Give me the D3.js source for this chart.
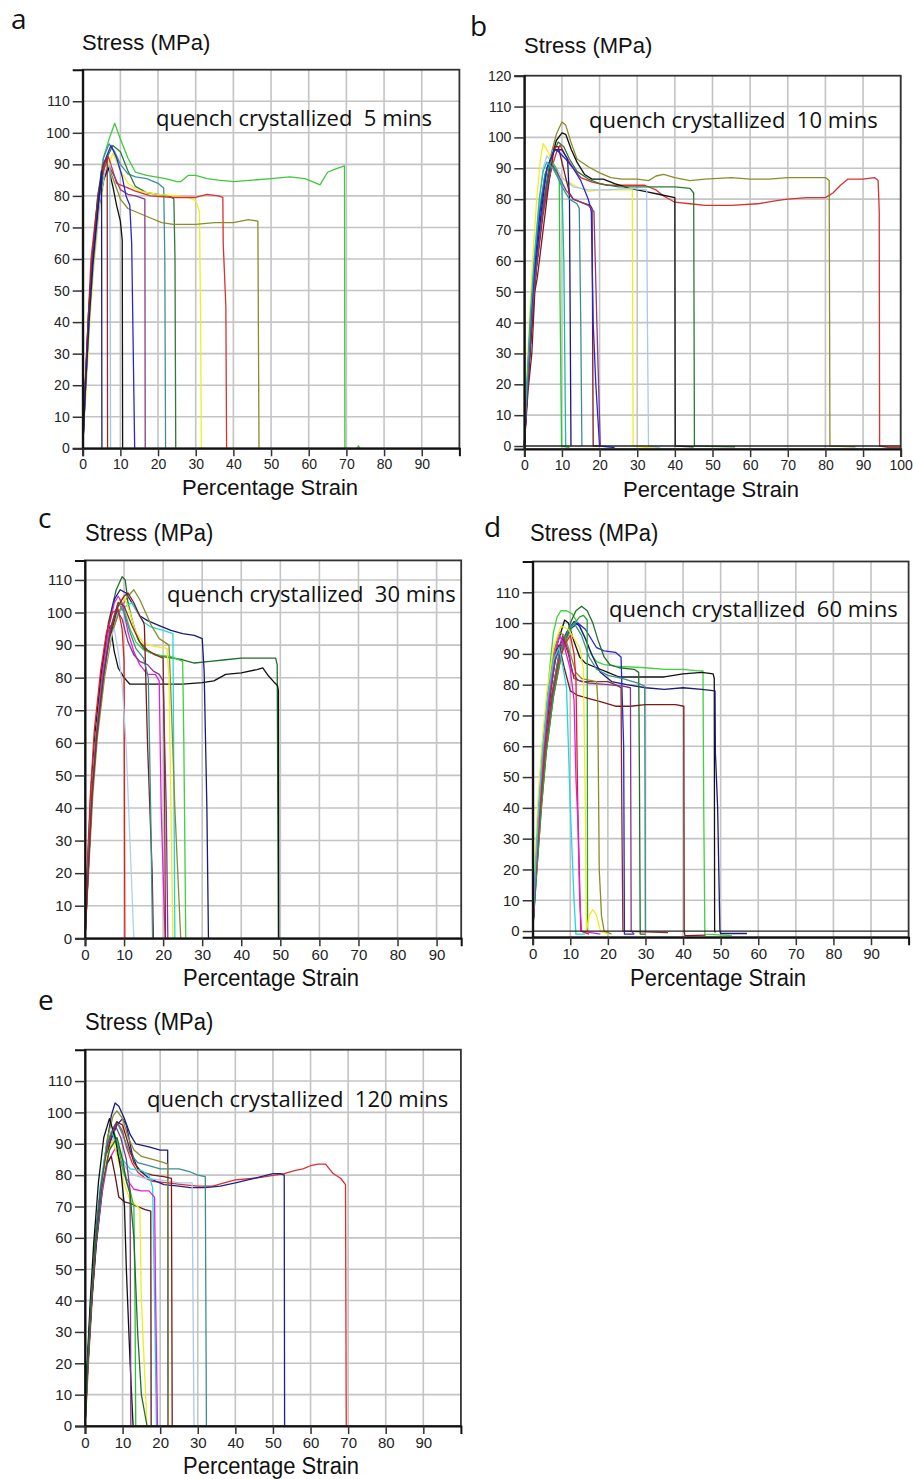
<!DOCTYPE html>
<html><head><meta charset="utf-8">
<script src="https://cdn.jsdelivr.net/npm/d3@7"></script>
<style>body{margin:0;background:#fff}svg{display:block}</style>
</head><body>
<svg id="c" width="913" height="1479"></svg>
<script>
// ---------------- DATA ----------------
const yTicks110 = [0,10,20,30,40,50,60,70,80,90,100,110];
const yTicks120 = [0,10,20,30,40,50,60,70,80,90,100,110,120];
const xTicks90 = [0,10,20,30,40,50,60,70,80,90];
const xTicks100 = [0,10,20,30,40,50,60,70,80,90,100];
const panelLetters = ["a","b","c","d","e"];
const panelTitles = ["quench crystallized  5 mins","quench crystallized  10 mins","quench crystallized  30 mins","quench crystallized  60 mins","quench crystallized  120 mins"];
const yLabel = "Stress (MPa)";
const xLabel = "Percentage Strain";

// panel a : 5 mins
const colorsA = ["#3ec83e","#3d8fa0","#2f7a3a","#f2ee1c","#d93030","#8c8c2a","#8a3a8a","#2828c8","#111111","#9cc4ec","#8b2b2b","#1a1a80","#3ec83e"];
const curvesA = [
 [[0,0],[0.6,18],[1.5,42],[2.5,60],[4,80],[5.5,92],[7,98],[8.5,103],[10,98],[12,92],[14,87.5],[17,86.5],[22,85.5],[25,84.5],[26,84.5],[28,86.5],[30,86.5],[33,85.5],[36,85],[40,84.5],[45,85],[50,85.5],[55,86],[59,85.5],[61,84.5],[63,83.5],[65,87.5],[67,88.5],[69.5,89.5],[69.6,0]],
 [[0,0],[0.6,17],[1.6,42],[2.6,60],[4,79],[5.5,92],[7,96.5],[8.5,94],[10,90],[12,87],[14,86],[17,85.5],[20,84],[21.5,82.5],[21.8,60],[22,0]],
 [[0,0],[0.7,18],[1.7,42],[2.8,60],[4.3,79],[6,91],[8,96],[10,94],[12,88],[14,83],[17,81],[20,80.5],[23,80],[24.2,79],[24.5,60],[24.7,0]],
 [[0,0],[1,20],[2,42],[3,58],[4.5,76],[6,87],[8,93.5],[10,88],[12,84],[15,81.5],[20,80.5],[25,80],[28,79.5],[30,78.5],[31,75],[31.3,40],[31.5,0]],
 [[0,0],[0.5,17],[1.5,42],[2.2,60],[3.5,74],[5,86],[6.8,92.5],[8,88],[9,84],[11,83],[14,81.5],[18,80],[24,79.5],[30,79.5],[33,80.5],[36,80],[37.2,79.5],[37.3,65],[38,45],[38.2,0]],
 [[0,0],[0.6,18],[1.6,42],[2.6,58],[4,76],[5.5,85],[7,89],[8.5,84],[10,79],[12,76],[15,74.5],[18,73],[21,71.5],[24,71],[30,71],[35,71.5],[40,71.5],[44,72.5],[46.5,72],[46.8,0]],
 [[0,0],[0.7,18],[1.7,42],[2.7,58],[4.2,76],[5.7,86],[7,89.5],[8.5,86],[10,82],[12,80.5],[14,80],[16.5,79],[16.6,0]],
 [[0,0],[0.5,15],[1.4,38],[2.4,58],[4,78],[5.5,90],[7.5,96],[9,92],[10.5,86],[11.5,80],[12.5,77],[13,65],[13.8,0]],
 [[0,0],[0.7,18],[1.7,42],[2.7,58],[4.2,76],[5.5,85],[6.8,89],[8,83],[9,77],[10,72],[10.5,66],[10.6,0]],
 [[0,0],[0.8,20],[2,45],[3,60],[4.5,78],[6,88],[7.2,90],[7.4,0]],
 [[0,0],[0.6,18],[1.5,42],[2.5,60],[4,80],[5.5,90],[6.5,92],[6.6,0]],
 [[0,0],[0.7,18],[1.7,40],[2.7,58],[4,75],[5,88],[5.1,0]],
 [[72.8,0],[73.2,0.8],[73.6,0]]
];

// panel b : 10 mins
const colorsB = ["#8c8c2a","#d93030","#111111","#2d7a35","#f2ee1c","#aac8ee","#30c830","#1a1a80","#3d8f90","#7a1a1a","#2424d8","#8a3a8a","#20b8a0"];
const curvesB = [
 [[0,0],[0.8,18],[2,40],[3.2,58],[5,78],[7,94],[8.5,101],[10,105],[11,104],[12.5,98],[14,93],[17,90.5],[20,88.5],[23,87],[26,86.5],[30,86.5],[33,86],[35,87.5],[37,88],[40,87],[44,86],[48,86.5],[55,87],[60,86.5],[65,86.5],[70,87],[75,87],[80,87],[81,86],[81.2,0],[88,-0.3]],
 [[0,0],[1,20],[2,38],[3,55],[5,75],[7,89],[8.5,95],[9.5,97.5],[11,94],[13,90],[15,87],[18,85.5],[22,84.5],[27,84.5],[32,84.5],[35,83],[37,81],[40,79],[44,78.5],[48,78],[55,78],[62,78.5],[67,79.5],[70,80],[75,80.5],[80,80.5],[82,82],[84,84.5],[86,86.5],[90,86.5],[93,87],[94,86],[94.3,76],[94.4,0],[97,-0.5],[100,-0.5]],
 [[0,0],[0.8,18],[2,40],[3.2,58],[5,77],[7,92],[8.5,99],[10,101.5],[11,101],[12.5,96],[14,92],[16,88],[18,86.5],[21,86.5],[24,85],[28,83.5],[32,82.5],[36,81.5],[40,80.5],[40.1,0],[45,-0.3]],
 [[0,0],[0.8,18],[2,40],[3.2,58],[5,78],[7,93],[9,98.5],[10.5,97],[12,93],[14,89],[17,86.5],[20,85],[25,84],[30,84],[35,84],[40,84],[44,83.5],[45,82],[45.2,0],[56,-0.3]],
 [[0,0],[0.5,18],[1.3,40],[2.2,60],[3.3,80],[4.3,93],[5,98],[6.5,95],[7.5,91],[9,88],[11,86],[14,84],[17,82.5],[20,83],[25,83],[28.7,83],[28.9,0],[33,-0.5],[36,-0.8]],
 [[0,0],[0.6,17],[1.6,40],[2.6,60],[4,80],[5,90],[6,94],[8,91],[10,87],[13,84],[17,83],[22,83],[28,83.5],[32.5,83],[32.7,42],[33,0],[36,-0.5]],
 [[0,0],[0.7,18],[1.8,42],[2.8,60],[4,76],[5.5,88],[7,93],[8.5,90],[9.3,86],[9.5,47],[9.9,0],[12,-0.5]],
 [[0,0],[0.8,18],[2,40],[3,58],[4.5,76],[6,90],[8,96],[10,96],[11.5,93],[12,80],[12.4,0]],
 [[0,0],[0.6,17],[1.6,40],[2.6,58],[4,76],[5.5,88],[7,92],[8.5,88],[10,84],[12,80],[14,78.5],[14.6,77],[15,40],[15.3,0]],
 [[0,0],[1,18],[2,30],[2.8,50],[3.5,55],[5,70],[6.5,85],[8,97],[9,97],[10,92],[11,87],[12,82],[13,80],[15,79],[17.5,78],[18,77],[18.3,0],[20,0]],
 [[0,0],[0.7,17],[1.8,40],[2.8,58],[4.2,76],[6,90],[8,96],[9,95.5],[11,93],[13,90],[15,86],[17,80],[17.8,76],[18.3,40],[19,20],[20,0],[24,-0.5]],
 [[0,0],[0.8,18],[1.8,38],[3,56],[4.5,72],[6,84],[7.5,91],[9,88],[11,83],[13,80],[15,79],[17,78],[18.5,76],[19.5,30],[20.2,0]],
 [[0,0],[0.6,18],[1.6,42],[2.6,60],[4,80],[5,89],[6,92],[7.5,90],[9,87],[10,85],[10.5,60],[11,0]]
];

// panel c : 30 mins
const colorsC = ["#1f6e2a","#111111","#1a1a7a","#20d8e0","#8c8c2a","#40d040","#f0ec20","#e020e0","#7a1a1a","#e02020","#b0d0f0","#3a8f8f","#7a3a8a","#8b2b2b"];
const curvesC = [
 [[0,0],[0.7,20],[1.7,45],[2.7,62],[4,78],[6,97],[8,107],[9.5,111],[10.3,110],[11,103],[12,98],[13.5,92],[15,89],[17,87.5],[20,86.5],[25,85.5],[28,84.5],[32,85],[36,85.5],[40,86],[45,86],[48.8,86],[49.2,84],[49.5,0]],
 [[0,0],[0.6,20],[1.5,45],[2.5,62],[4,80],[5.5,93],[6.5,96],[7.5,88],[8.5,83],[10,80],[11.5,78],[14,78],[20,78],[25,78],[30,78.5],[33,79],[36,81],[40,81.5],[44,82.5],[45.5,83],[47,80.5],[48.5,78.5],[49.3,77.5],[49.5,76],[49.6,0]],
 [[0,0],[0.7,20],[1.7,45],[2.8,62],[4.5,82],[6,96],[7.5,104],[9,107],[10.5,106],[12,103],[14,99],[16,97.5],[19,96],[22,94.5],[25,93.5],[28,93],[30,92],[30.5,82],[31.2,40],[31.6,0]],
 [[0,0],[0.8,20],[1.8,44],[3,62],[4.8,80],[6.5,92],[8.5,100],[10.5,102],[12,103],[13.5,100],[15,97],[17,95.5],[20,94.5],[22.5,93.5],[22.8,40],[23,0]],
 [[0,0],[0.9,20],[2,44],[3.2,62],[5,80],[7,94],[9,101],[11,105],[12.5,107],[14,104],[15.5,100],[17,96],[19,92],[21.5,90],[22,75],[23,40],[24.5,0]],
 [[0,0],[0.7,20],[1.7,44],[2.8,62],[4.5,80],[6,93],[8,101],[9,104],[10,101],[11.5,95],[13,91],[15,88.5],[18,87],[22,86.5],[25,85],[25.3,60],[25.8,0]],
 [[0,0],[0.7,20],[1.7,44],[2.8,62],[4.5,80],[6.5,95],[8.5,103],[10,105],[11.5,100],[13,94],[15,90.5],[18,89.5],[21,89],[21.5,80],[22,40],[22.5,0]],
 [[0,0],[0.7,20],[1.7,44],[2.8,62],[4.3,80],[6,95],[7.5,103],[8.5,105],[9.5,103],[11,94],[12.5,88],[14,84],[16,81],[18,81],[19,79],[19.5,40],[20.5,0]],
 [[0,0],[0.8,20],[1.8,44],[3,62],[4.8,80],[6.5,93],[8.5,102],[10,105],[11,106],[12.5,103],[14,99],[15,97],[15.2,96],[16,60],[17.2,20],[17.5,0]],
 [[0,0],[0.5,20],[1.4,45],[2.4,64],[4,82],[5.5,94],[7,100],[8.5,101],[9.5,95],[10,85],[10.2,0]],
 [[0,0],[0.8,20],[1.8,44],[3,62],[4.8,80],[6.5,92],[7.5,95],[8.5,88],[9.5,78],[10.5,60],[11.5,30],[12.5,0]],
 [[0,0],[0.7,20],[1.7,44],[2.8,62],[4.5,80],[6.5,95],[8.5,103],[10,100],[11.5,94],[13,89],[15,86],[16.2,80],[16.8,40],[17.3,0]],
 [[0,0],[0.8,20],[1.8,44],[3,62],[4.7,80],[6.5,95],[8,101],[9.5,98],[11,91],[12.5,87],[14,85],[16,84],[17.5,82],[19,81],[20,79],[20.8,40],[21.2,0]],
 [[0,0],[0.8,20],[1.8,44],[3,62],[4.7,80],[6.5,94],[8.5,103],[10,102],[12,96],[14,91],[16,88.5],[18,87],[20,86],[20.3,60],[20.6,0]]
];

// panel d : 60 mins
const colorsD = ["#40d040","#111111","#1a1a7a","#2424d8","#1f6e2a","#30a030","#3a8f8f","#7a1a1a","#8b2b2b","#7a3a8a","#8c8c2a","#f0ec20","#e02020","#e020e0","#20d8e0"];
const curvesD = [
 [[0,0],[0.8,20],[1.8,42],[3,62],[4.5,85],[5.5,97],[6.5,102],[7.5,104],[9,104],[10.5,103],[12,100],[14,95],[15.5,90],[17,87.5],[19,86.5],[22,86],[30,85.5],[35,85],[40,85],[44,84.5],[45.3,84.5],[45.5,40],[45.8,-1],[53,-1.5]],
 [[0,0],[0.8,18],[2,40],[3.2,60],[4.8,78],[6.5,93],[8.5,101],[9.5,100],[11,94],[12.5,89],[14,87],[17,85.5],[20,84],[23,82.5],[28,82.5],[35,82.5],[40,83.5],[45,84],[48,83.5],[48.3,82],[48.4,0],[48.6,-0.5]],
 [[0,0],[0.8,18],[2,40],[3.2,58],[5,76],[7,90],[9,97],[11,100.5],[12.5,99],[14,95],[16,89],[18,84],[21,81],[25,80],[30,79],[35,78.5],[40,79],[45,78.5],[48.5,78],[48.6,58],[49.2,40],[49.8,0],[50,-0.8],[57,-0.8]],
 [[0,0],[0.9,18],[2.1,40],[3.4,58],[5.2,76],[7.5,92],[10,98],[12,100],[14,98],[15.5,95],[17,92],[19,91],[22,90.5],[23.5,89],[24.2,60],[24.4,-1],[27,-1]],
 [[0,0],[1,18],[2.3,40],[3.6,58],[5.5,76],[8,92],[10,100],[11.5,104],[13,105.5],[14.5,104],[16,100],[17.5,94],[19,89],[20.5,86.5],[23,85.5],[27,85],[28.2,84],[28.4,50],[28.6,-1],[30,-1]],
 [[0,0],[1,18],[2.3,40],[3.6,58],[5.5,76],[8,92],[10.5,99],[12.5,102],[13.5,102.5],[14.5,101],[14.6,0]],
 [[0,0],[0.8,18],[2,40],[3.2,58],[5,76],[7,90],[9.5,98],[11,100],[13,96],[15,89],[17,85],[20,83],[24,82],[28,80.5],[29.8,79.5],[30,0]],
 [[0,0],[0.6,18],[1.6,40],[2.6,58],[4,76],[5.5,88],[7,93],[8.5,85],[10,78],[12,76.5],[15,75.5],[18,74.5],[22,73],[26,73],[30,73.5],[35,73.5],[38,73.5],[40.2,73],[40.3,0],[40.5,-1.5],[46,-1.3]],
 [[0,0],[0.7,18],[1.7,40],[2.8,58],[4.5,76],[6,88],[8,95],[9.5,90],[11,82],[13,81],[16,81],[20,81],[22,80],[23.5,79],[23.7,40],[24,0],[36,-0.5]],
 [[0,0],[0.7,18],[1.7,40],[2.8,58],[4.5,76],[6,88],[8,96],[9.5,91],[10.5,84],[12,81.5],[15,80.5],[20,80],[24,79.5],[26,79],[26.2,0],[27,-1]],
 [[0,0],[0.6,18],[1.6,40],[2.6,58],[4,76],[5.5,90],[7,97],[8.5,96],[10,90],[11.5,84],[13,82],[15,81.5],[17,81],[17.3,75],[17.7,20],[18.3,5],[19,0],[21,-1]],
 [[0,0],[0.5,20],[1.4,42],[2.4,60],[3.8,78],[5.5,92],[7.5,99],[9.5,98],[11,95],[12.5,92],[13.5,85],[14,40],[14.3,0],[15,5],[16,7],[17,5],[18,0],[20,-1]],
 [[0,0],[0.8,18],[2,40],[3.2,58],[5,76],[7,88],[9,94],[10,96],[11,90],[11.5,82],[12,40],[12.8,0],[15,-1]],
 [[0,0],[0.7,18],[1.7,40],[2.8,58],[4.3,76],[5.8,90],[7.2,96],[8.5,92],[10,85],[11,75],[11.5,50],[12,36],[12.5,10],[13,0],[18,-1]],
 [[0,0],[0.6,18],[1.6,40],[2.6,58],[4,76],[5.5,88],[7,92],[8,86],[9,79],[9.5,60],[10,40],[11,10],[11.5,-1],[14,-1]]
];

// panel e : 120 mins
const colorsE = ["#d93030","#1a1a80","#20208a","#3a8f8f","#aac8ee","#8c8c2a","#7a1a1a","#20d8e0","#e020e0","#5a1a1a","#f0ec20","#30c030","#111111","#7a3a8a","#1f6e2a"];
const curvesE = [
 [[0,0],[0.5,10],[1,22],[2,42],[3,58],[4.5,75],[6,87],[7.5,95],[8.5,97],[10,94],[11,89],[12.5,84],[14,81],[16,79],[18,78],[22,77.5],[26,77],[30,76.5],[34,76.5],[37,77.5],[40,78.5],[45,79],[48,79.5],[53,80.5],[56,81.5],[58,82],[60,83],[62,83.5],[64,83.5],[65,82],[66,80.5],[68,79],[69.3,77],[69.5,0]],
 [[0,0],[0.6,18],[1.6,40],[2.7,58],[4.2,76],[5.8,90],[7,99],[8,103],[9,102],[10.5,98],[12,93],[13.5,90],[17,89],[20,88],[22,88],[22.1,0]],
 [[0,0],[0.7,18],[1.8,40],[3,58],[4.7,76],[6.5,90],[8.5,96],[10,98],[11,96],[12.5,87],[14,82],[17,79],[21,77],[25,76.5],[28,76],[32,76],[36,76.5],[40,77.5],[45,79],[50,80.5],[52,80.5],[53,80],[53.1,0]],
 [[0,0],[0.6,18],[1.6,40],[2.7,58],[4.2,76],[5.8,88],[7.5,95],[8.5,97],[10,93],[12,87],[14,84],[17,83],[20,82],[25,82],[28,81],[30,80],[32,79.5],[32.3,0]],
 [[0,0],[0.7,18],[1.7,40],[2.8,58],[4.5,76],[6,86],[7.5,92],[9,88],[11,82],[13,80],[16,79],[20,78.5],[25,77.5],[28.5,77.5],[28.6,60],[29,0]],
 [[0,0],[0.6,18],[1.6,40],[2.7,58],[4.2,76],[6,92],[7.5,99],[8.5,100.5],[10,98],[11.5,92],[13,88],[15,86],[18,85],[21,84],[22,83.5],[22.2,0]],
 [[0,0],[0.7,18],[1.8,40],[2.9,58],[4.5,76],[6.5,90],[8.5,97],[10,96],[11.5,90],[13,84],[15,81],[18,80],[21,79.5],[23,79],[23.2,0],[24,0]],
 [[0,0],[0.6,18],[1.5,40],[2.5,58],[4,76],[5.5,88],[7,94],[8.5,90],[10,85],[12,82],[15,81.5],[17,80],[18,76],[18.5,40],[19,0]],
 [[0,0],[0.7,18],[1.7,40],[2.8,58],[4.5,74],[6,84],[8,88.5],[9.5,84],[11,79],[13,75.5],[15,75],[17,75],[18.5,73],[18.8,40],[19.3,0]],
 [[0,0],[0.6,18],[1.6,40],[2.6,58],[4,74],[5.5,83],[7,86],[8,80],[9,73],[10.5,71.5],[12,71],[14,70],[16,69],[17.5,68.5],[17.6,0]],
 [[0,0],[0.6,18],[1.6,40],[2.7,58],[4.2,74],[5.8,86],[7.5,91],[9,84],[10.5,77],[12,72],[14,70],[14.6,69],[15,40],[16.5,0]],
 [[0,0],[0.6,18],[1.6,40],[2.7,58],[4.2,76],[5.8,90],[7.5,95],[9,88],[10.5,80],[12,75],[13,70],[13.3,40],[13.5,0]],
 [[0,0],[0.5,18],[1.4,40],[2.3,58],[3.6,78],[5,92],[6.5,98],[8,92],[9.5,82],[10.5,70],[11,50],[12,20],[12.8,0]],
 [[0,0],[0.6,18],[1.6,40],[2.7,58],[4.2,76],[6,90],[8,96],[9.5,92],[11,85],[12,75],[12.2,0]],
 [[0,0],[0.7,18],[1.7,40],[2.8,58],[4.5,76],[6.5,88],[8.5,92],[10,85],[11,78],[12,74],[13,60],[14,30],[15,10],[16.5,0]]
];

// ---------------- LAYOUT ----------------
const panels = [
 {curves:curvesA, colors:colorsA, xDom:[0,100], yDom:[0,120], xr:[82.7,459.4], yr:[448.3,69.7], yt:yTicks110, xt:xTicks90,
  letter:[11,29], ylab:[82,50], xlabC:270, xlabY:495, title:[156,126], sy:1, zeroLine:false},
 {curves:curvesB, colors:colorsB, xDom:[0,100], yDom:[-1,120], xr:[524.3,900.7], yr:[449.1,75.7], yt:yTicks120, xt:xTicks100,
  letter:[470,36], ylab:[524,53], xlabC:711, xlabY:497, title:[589,128], sy:1, zeroLine:true},
 {curves:curvesC, colors:colorsC, xDom:[0,96.3], yDom:[0,116], xr:[85,461.2], yr:[938.3,560.4], yt:yTicks110, xt:xTicks90,
  letter:[38,528], ylab:[85,541], xlabC:271, xlabY:986, title:[167,602], sy:1.12, zeroLine:false},
 {curves:curvesD, colors:colorsD, xDom:[0,100], yDom:[-2,120], xr:[532.7,908.6], yr:[937.2,561.5], yt:yTicks110, xt:xTicks90,
  letter:[484,537], ylab:[530,541], xlabC:718, xlabY:986, title:[609,617], sy:1.12, zeroLine:true},
 {curves:curvesE, colors:colorsE, xDom:[0,100], yDom:[0,120], xr:[85,460.9], yr:[1426,1049.7], yt:yTicks110, xt:xTicks90,
  letter:[38,1010], ylab:[85,1030], xlabC:271, xlabY:1474, title:[147,1107], sy:1.12, zeroLine:false}
];

const svg = d3.select("#c");
const AX = "Liberation Sans, Arial, sans-serif";
const TT = "Open Sans, Noto Sans, sans-serif";

function txt(g, x, y, s, size, font, anchor, sy) {
  return g.append("text").attr("transform", `translate(${x},${y}) scale(1,${sy})`)
    .attr("font-family", font).attr("font-size", size).attr("text-anchor", anchor || "start")
    .attr("fill", "#111").text(s);
}

panels.forEach((p, i) => {
  const g = svg.append("g");
  const x = d3.scaleLinear().domain(p.xDom).range(p.xr);
  const y = d3.scaleLinear().domain(p.yDom).range(p.yr);
  const L = p.xr[0], R = p.xr[1], T = p.yr[1], B = p.yr[0];

  // grid
  const gx = p.xt.filter(v => v > 0);
  g.selectAll(".vg").data(gx).join("line").attr("x1", d => x(d)).attr("x2", d => x(d))
    .attr("y1", T).attr("y2", B).attr("stroke", "#c4c4c4").attr("stroke-width", 1.6);
  const gy = d3.range(10, p.yDom[1], 10);
  g.selectAll(".hg").data(gy).join("line").attr("x1", L).attr("x2", R)
    .attr("y1", d => y(d)).attr("y2", d => y(d)).attr("stroke", "#c4c4c4").attr("stroke-width", 1.6);

  // curves
  const line = d3.line().x(d => x(d[0])).y(d => y(d[1]));
  g.selectAll(".cv").data(p.curves).join("path").attr("d", line)
    .attr("fill", "none").attr("stroke", (d, k) => p.colors[k]).attr("stroke-width", 1.3)
    .attr("stroke-linejoin", "round");

  if (p.zeroLine) {
    g.append("line").attr("x1", L).attr("x2", R).attr("y1", y(0)).attr("y2", y(0))
      .attr("stroke", "#222").attr("stroke-width", 1.3);
  }

  // frame
  g.append("rect").attr("x", L).attr("y", T).attr("width", R - L).attr("height", B - T)
    .attr("fill", "none").attr("stroke", "#333").attr("stroke-width", 1.8);

  // axes
  const fs = p.sy === 1 ? 14 : 15;
  const ya = d3.axisLeft(y).tickValues(p.yt).tickSize(10).tickPadding(3).tickFormat(d3.format("d"));
  const yg = g.append("g").attr("transform", `translate(${L},0)`).call(ya);
  const xa = d3.axisBottom(x).tickValues(p.xt).tickSize(8).tickPadding(3).tickFormat(d3.format("d"));
  const xg = g.append("g").attr("transform", `translate(0,${B})`).call(xa);
  [yg, xg].forEach(a => {
    a.select(".domain").attr("stroke", "#111").attr("stroke-width", 2);
    a.selectAll(".tick line").attr("stroke", "#333").attr("stroke-width", 1.5);
    a.selectAll(".tick text").attr("font-family", AX).attr("font-size", fs).attr("fill", "#222");
  });

  // labels
  txt(g, p.letter[0], p.letter[1], panelLetters[i], 28, TT, "start", 1);
  txt(g, p.ylab[0], p.ylab[1], yLabel, 22, AX, "start", p.sy);
  txt(g, p.xlabC, p.xlabY, xLabel, 22, AX, "middle", p.sy);
  txt(g, p.title[0], p.title[1], panelTitles[i], 22, TT, "start", 1).style("white-space", "pre");
});
</script>
</body></html>
